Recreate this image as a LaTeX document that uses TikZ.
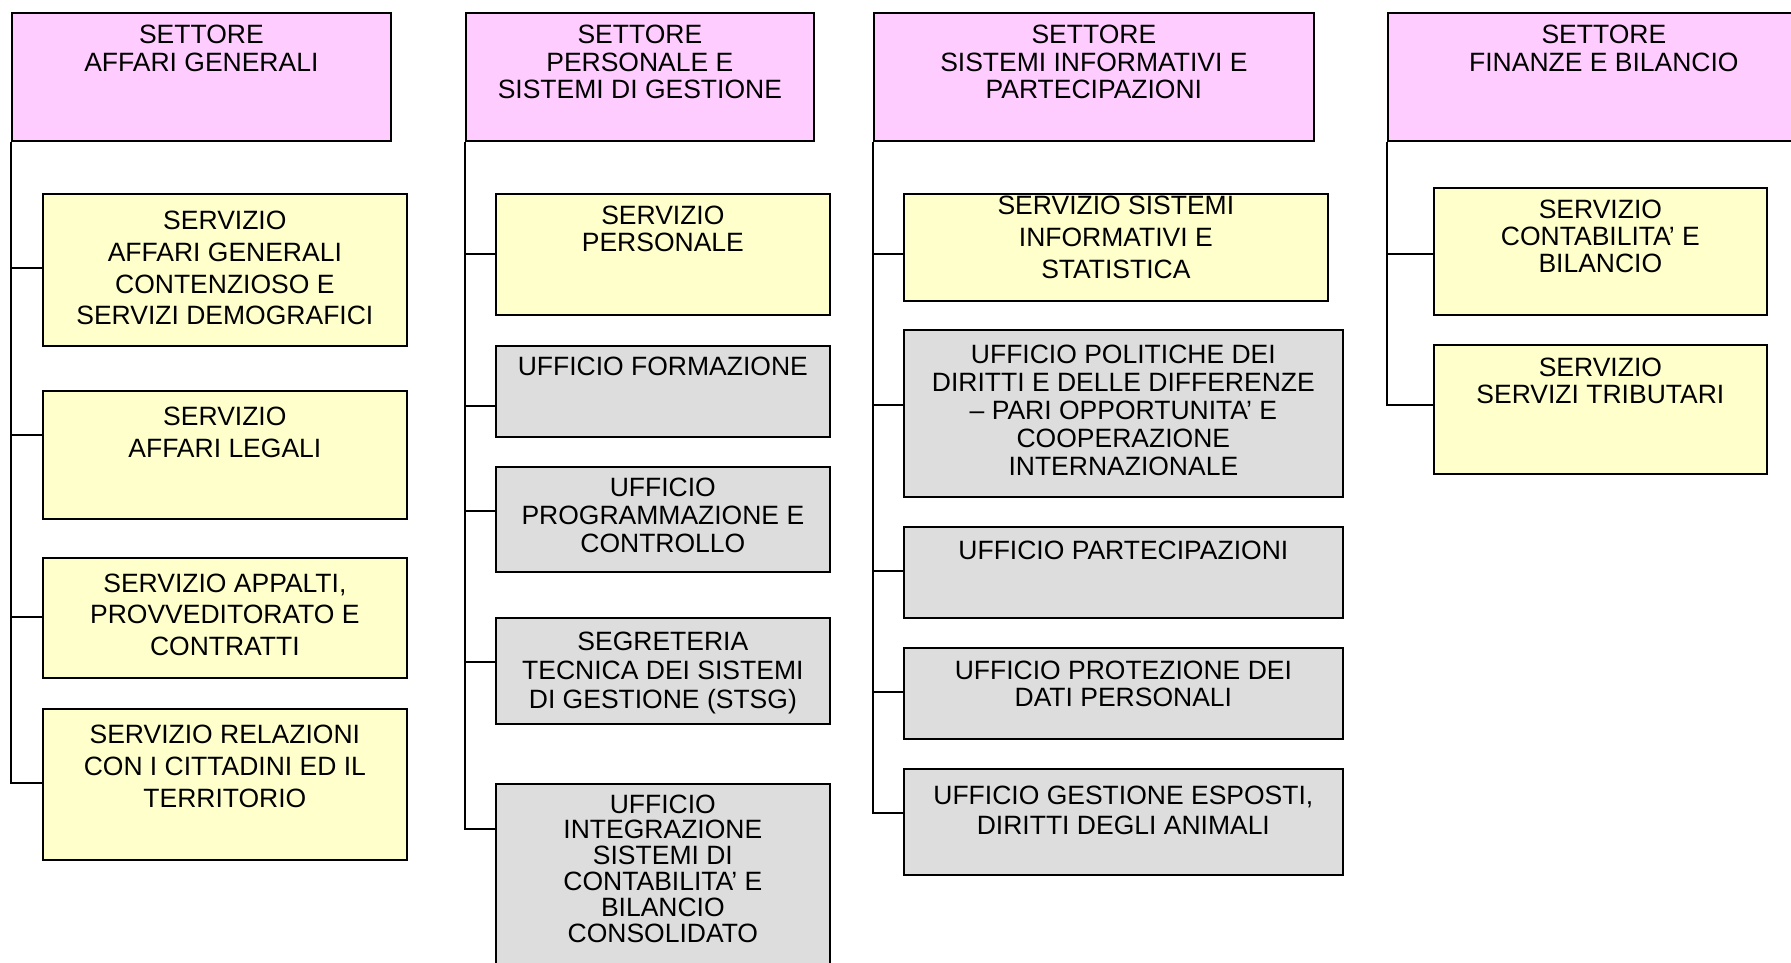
\documentclass[tikz,border=0pt]{standalone}
\usepackage{fontspec}
\setmainfont{Liberation Sans}
\definecolor{pinkfill}{HTML}{FFCCFF}
\definecolor{yelfill}{HTML}{FFFFCC}
\definecolor{grayfill}{HTML}{DDDDDD}
\tikzset{
  boxbase/.style={draw=black, line width=1.7pt, inner sep=0pt, anchor=north west},
  sectorbox/.style={boxbase, fill=pinkfill},
  servbox/.style={boxbase, fill=yelfill},
  uffbox/.style={boxbase, fill=grayfill},
  txt/.style={anchor=north, align=center, inner sep=0pt, font=\fontsize{26.5pt}{#1pt}\selectfont},
  conn/.style={draw=black, line width=1.7pt}
}
\begin{document}
\begin{tikzpicture}[x=1pt, y=-1pt]
\useasboundingbox (0,0) rectangle (1791,962);

% ---------- Column 1 ----------
\node[sectorbox, minimum width=379pt, minimum height=128pt] (s1) at (11,12) {};
\node[servbox, minimum width=364pt, minimum height=152pt] (a1) at (42,193) {};
\node[servbox, minimum width=364pt, minimum height=128pt] (a2) at (42,390) {};
\node[servbox, minimum width=364pt, minimum height=120pt] (a3) at (42,557) {};
\node[servbox, minimum width=364pt, minimum height=151pt] (a4) at (42,708) {};

% ---------- Column 2 ----------
\node[sectorbox, minimum width=348pt, minimum height=128pt] (s2) at (465,12) {};
\node[servbox, minimum width=334pt, minimum height=121pt] (b1) at (495,193) {};
\node[uffbox, minimum width=334pt, minimum height=91pt] (b2) at (495,345) {};
\node[uffbox, minimum width=334pt, minimum height=105pt] (b3) at (495,466) {};
\node[uffbox, minimum width=334pt, minimum height=106pt] (b4) at (495,617) {};
\node[uffbox, minimum width=334pt, minimum height=220pt] (b5) at (495,783) {};

% ---------- Column 3 ----------
\node[sectorbox, minimum width=440pt, minimum height=128pt] (s3) at (873,12) {};
\node[servbox, minimum width=424pt, minimum height=107pt] (c1) at (903,193) {};
\node[uffbox, minimum width=439pt, minimum height=167pt] (c2) at (903,329) {};
\node[uffbox, minimum width=439pt, minimum height=91pt] (c3) at (903,526) {};
\node[uffbox, minimum width=439pt, minimum height=91pt] (c4) at (903,647) {};
\node[uffbox, minimum width=439pt, minimum height=106pt] (c5) at (903,768) {};

% ---------- Column 4 ----------
\node[sectorbox, minimum width=432pt, minimum height=128pt] (s4) at (1387,12) {};
\node[servbox, minimum width=333pt, minimum height=127pt] (d1) at (1433,187) {};
\node[servbox, minimum width=333pt, minimum height=129pt] (d2) at (1433,344) {};

% ---------- Texts ----------
\node[txt=27.6] (s1t) at ([yshift=-13pt]s1.north) {SETTORE\\AFFARI GENERALI};
\node[txt=31.7] (a1t) at ([yshift=-18pt]a1.north) {SERVIZIO\\AFFARI GENERALI\\CONTENZIOSO E\\SERVIZI DEMOGRAFICI};
\node[txt=32] (a2t) at ([yshift=-16.7pt]a2.north) {SERVIZIO\\AFFARI LEGALI};
\node[txt=31.7] (a3t) at ([yshift=-16.3pt]a3.north) {SERVIZIO APPALTI,\\PROVVEDITORATO E\\CONTRATTI};
\node[txt=32] (a4t) at ([yshift=-17pt]a4.north) {SERVIZIO RELAZIONI\\CON I CITTADINI ED IL\\TERRITORIO};

\node[txt=27.6] (s2t) at ([yshift=-13pt]s2.north) {SETTORE\\PERSONALE E\\SISTEMI DI GESTIONE};
\node[txt=26.7] (b1t) at ([yshift=-13pt]b1.north) {SERVIZIO\\PERSONALE};
\node[txt=27] (b2t) at ([yshift=-11.7pt]b2.north) {UFFICIO FORMAZIONE};
\node[txt=27.8] (b3t) at ([yshift=-11.7pt]b3.north) {UFFICIO\\PROGRAMMAZIONE E\\CONTROLLO};
\node[txt=29] (b4t) at ([yshift=-14.7pt]b4.north) {SEGRETERIA\\TECNICA DEI SISTEMI\\DI GESTIONE (STSG)};
\node[txt=25.8] (b5t) at ([yshift=-11.3pt]b5.north) {UFFICIO\\INTEGRAZIONE\\SISTEMI DI\\CONTABILITA’ E\\BILANCIO\\CONSOLIDATO};

\node[txt=27.6] (s3t) at ([yshift=-13pt]s3.north) {SETTORE\\SISTEMI INFORMATIVI E\\PARTECIPAZIONI};
\node[txt=32] (c1t) at ([yshift=-3pt]c1.north) {SERVIZIO SISTEMI\\INFORMATIVI E\\STATISTICA};
\node[txt=28] (c2t) at ([yshift=-16pt]c2.north) {UFFICIO POLITICHE DEI\\DIRITTI E DELLE DIFFERENZE\\– PARI OPPORTUNITA’ E\\COOPERAZIONE\\INTERNAZIONALE};
\node[txt=27] (c3t) at ([yshift=-15pt]c3.north) {UFFICIO PARTECIPAZIONI};
\node[txt=26.7] (c4t) at ([yshift=-14pt]c4.north) {UFFICIO PROTEZIONE DEI\\DATI PERSONALI};
\node[txt=30] (c5t) at ([yshift=-18pt]c5.north) {UFFICIO GESTIONE ESPOSTI,\\DIRITTI DEGLI ANIMALI};

\node[txt=27.6] (s4t) at ([yshift=-13pt]s4.north) {SETTORE\\FINANZE E BILANCIO};
\node[txt=27] (d1t) at ([yshift=-13pt]d1.north) {SERVIZIO\\CONTABILITA’ E\\BILANCIO};
\node[txt=27] (d2t) at ([yshift=-13.7pt]d2.north) {SERVIZIO\\SERVIZI TRIBUTARI};

% ---------- Connectors ----------
\draw[conn] (s1.south west) |- (a4.west |- 0,783);
\draw[conn] (s1.south west |- 0,268) -- (a1.west |- 0,268);
\draw[conn] (s1.south west |- 0,435) -- (a2.west |- 0,435);
\draw[conn] (s1.south west |- 0,617) -- (a3.west |- 0,617);

\draw[conn] (s2.south west) |- (b5.west |- 0,829);
\draw[conn] (s2.south west |- 0,254) -- (b1.west |- 0,254);
\draw[conn] (s2.south west |- 0,406) -- (b2.west |- 0,406);
\draw[conn] (s2.south west |- 0,511) -- (b3.west |- 0,511);
\draw[conn] (s2.south west |- 0,662) -- (b4.west |- 0,662);

\draw[conn] (s3.south west) |- (c5.west |- 0,813);
\draw[conn] (s3.south west |- 0,254) -- (c1.west |- 0,254);
\draw[conn] (s3.south west |- 0,405) -- (c2.west |- 0,405);
\draw[conn] (s3.south west |- 0,571) -- (c3.west |- 0,571);
\draw[conn] (s3.south west |- 0,692) -- (c4.west |- 0,692);

\draw[conn] (s4.south west) |- (d2.west |- 0,405);
\draw[conn] (s4.south west |- 0,254) -- (d1.west |- 0,254);
\end{tikzpicture}
\end{document}
